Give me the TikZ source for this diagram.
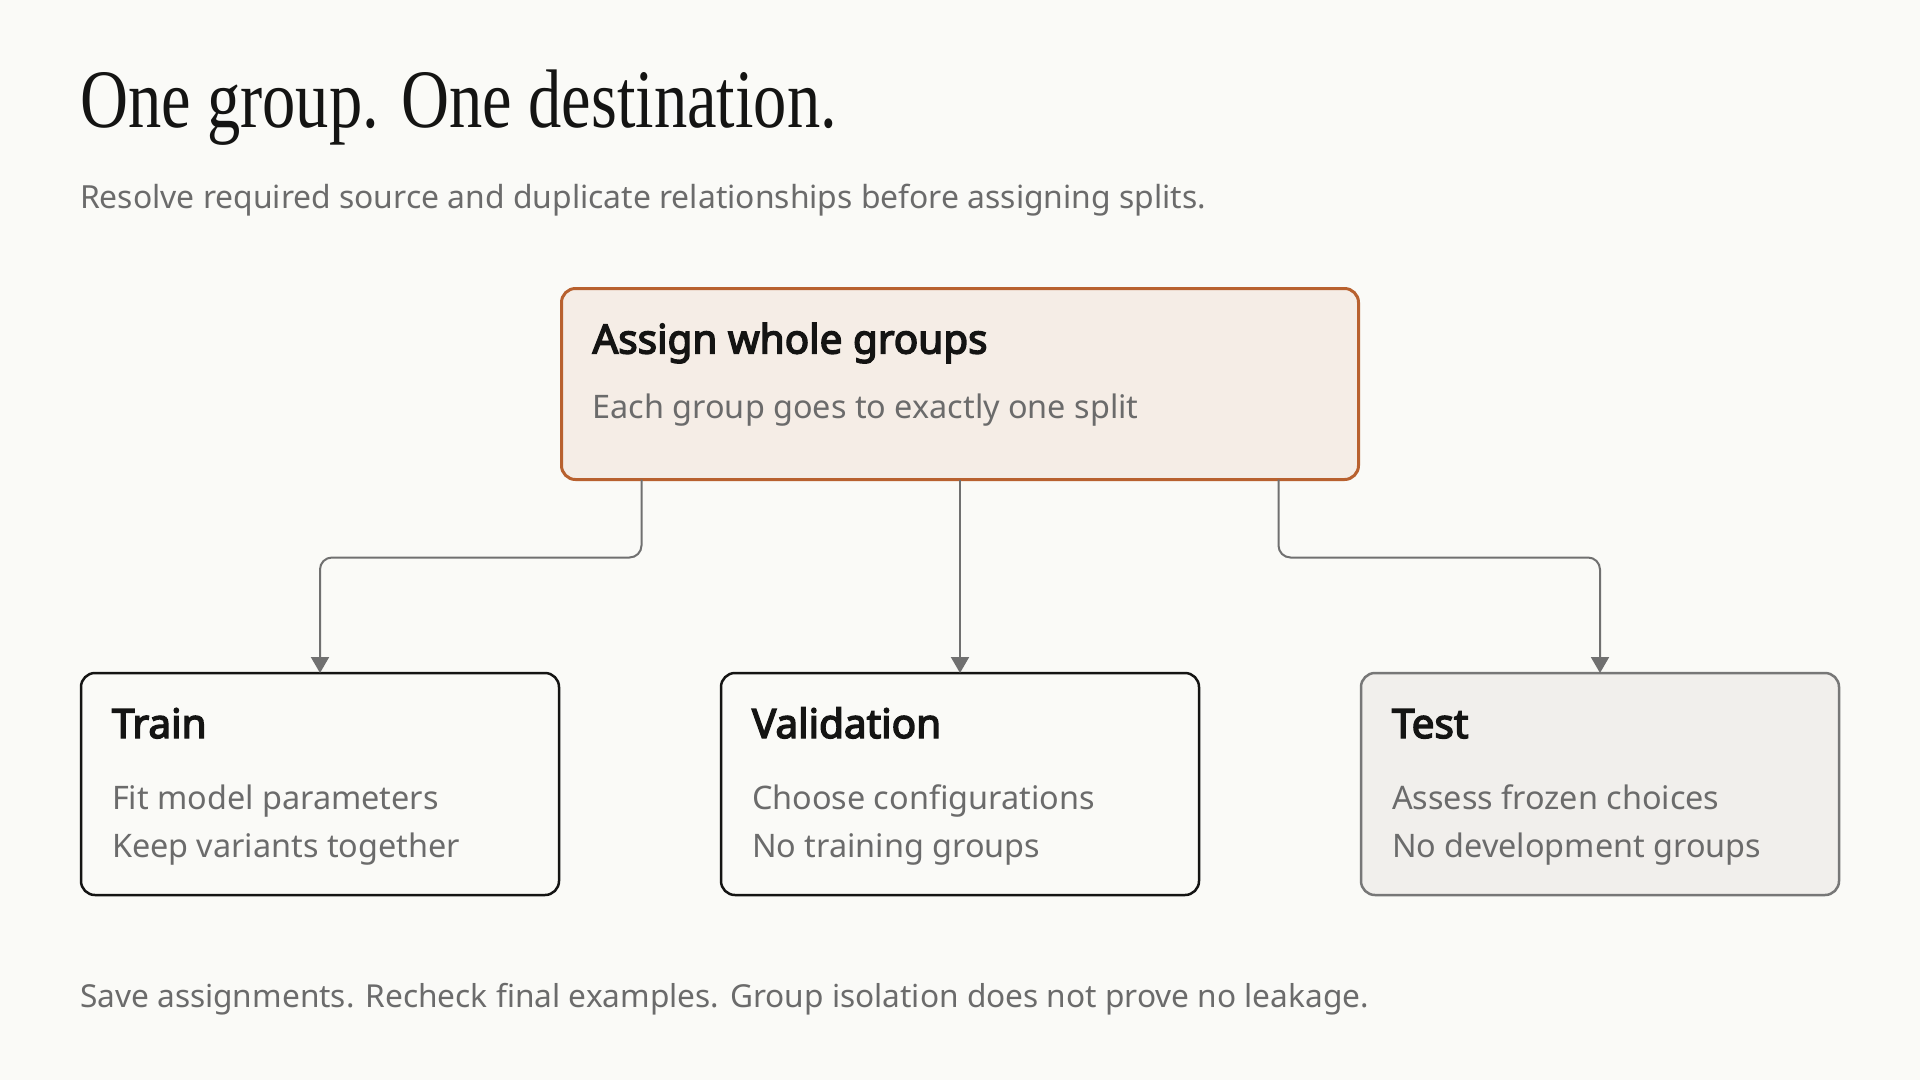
\documentclass[tikz,border=0pt]{standalone}
\usepackage{fontspec}
\setmainfont{Noto Sans}
\newfontfamily\bodyfont{Noto Sans}
\newfontfamily\headfont[FakeBold=3.6]{Noto Sans}
\newfontfamily\titlefont[FakeStretch=0.8]{Liberation Serif}
\usetikzlibrary{arrows.meta}

\definecolor{bg}{HTML}{FAFAF7}
\definecolor{ink}{HTML}{141413}
\definecolor{muted}{HTML}{6B6B6B}
\definecolor{clay}{HTML}{B8612F}
\definecolor{clayfill}{HTML}{F5EDE6}
\definecolor{testfill}{HTML}{F1EFEC}
\definecolor{testline}{HTML}{777777}
\definecolor{connclr}{HTML}{707070}

\newlength\fitlen
\newcommand\fitsize[4]{%
  \settowidth\fitlen{#2\fontsize{10pt}{12pt}\selectfont #4}%
  \pgfmathsetmacro#1{10*#3/\fitlen}}
\fitsize\titlesz{\titlefont}{757}{One group. One destination.}
\fitsize\subsz{\bodyfont}{1126}{Resolve required source and duplicate relationships before assigning splits.}
\fitsize\headsz{\headfont}{395}{Assign whole groups}
\fitsize\bodysz{\bodyfont}{546}{Each group goes to exactly one split}
\fitsize\footsz{\bodyfont}{1289}{Save assignments. Recheck final examples. Group isolation does not prove no leakage.}

\begin{document}
\begin{tikzpicture}[x=1pt,y=-1pt,
  txt/.style={inner sep=0pt, outer sep=0pt, anchor=base west},
  titletxt/.style={txt, text=ink, font=\titlefont\fontsize{\titlesz pt}{\titlesz pt}\selectfont},
  subtxt/.style={txt, text=muted, font=\bodyfont\fontsize{\subsz pt}{\subsz pt}\selectfont},
  foottxt/.style={txt, text=muted, font=\bodyfont\fontsize{\footsz pt}{\footsz pt}\selectfont},
  headtxt/.style={txt, text=ink, font=\headfont\fontsize{\headsz pt}{\headsz pt}\selectfont},
  bodytxt/.style={txt, text=muted, font=\bodyfont\fontsize{\bodysz pt}{\bodysz pt}\selectfont},
  boxbase/.style={rectangle, rounded corners=14pt, inner sep=0pt, outer sep=0pt},
  topbox/.style={boxbase, draw=clay, fill=clayfill, line width=3pt, minimum width=797pt, minimum height=191pt},
  splitbox/.style={boxbase, draw=ink, fill=bg, line width=2.5pt, minimum width=478pt, minimum height=222pt},
  testbox/.style={boxbase, draw=testline, fill=testfill, line width=2.5pt, minimum width=478pt, minimum height=222pt},
  connector/.style={draw=connclr, line width=2pt, rounded corners=12pt, -{Triangle[width=18pt,length=16pt]}}
]
\fill[bg] (0,0) rectangle (1920,1080);
\useasboundingbox (0,0) rectangle (1920,1080);

\node[titletxt] (title) at (80,127) {One group. One destination.};
\node[subtxt] (subtitle) at (80,208) {Resolve required source and duplicate relationships before assigning splits.};

\node[topbox] (assign) at (960,384) {};
\node[headtxt] (assignhead) at ([shift={(31,65)}]assign.north west) {Assign whole groups};
\node[bodytxt] (assignbody) at ([shift={(31,130)}]assign.north west) {Each group goes to exactly one split};

\node[splitbox] (train) at (320,784) {};
\node[splitbox] (valid) at (960,784) {};
\node[testbox] (test) at (1600,784) {};

\node[headtxt] (trainhead) at ([shift={(31,65)}]train.north west) {Train};
\node[bodytxt] (trainl1) at ([shift={(31,136)}]train.north west) {Fit model parameters};
\node[bodytxt] (trainl2) at ([shift={(31,184)}]train.north west) {Keep variants together};

\node[headtxt] (validhead) at ([shift={(31,65)}]valid.north west) {Validation};
\node[bodytxt] (validl1) at ([shift={(31,136)}]valid.north west) {Choose configurations};
\node[bodytxt] (validl2) at ([shift={(31,184)}]valid.north west) {No training groups};

\node[headtxt] (testhead) at ([shift={(31,65)}]test.north west) {Test};
\node[bodytxt] (testl1) at ([shift={(31,136)}]test.north west) {Assess frozen choices};
\node[bodytxt] (testl2) at ([shift={(31,184)}]test.north west) {No development groups};

\draw[connector] ([xshift=80pt]assign.south west) -- ++(0,78) -| (train.north);
\draw[connector] (assign.south) -- (valid.north);
\draw[connector] ([xshift=-80pt]assign.south east) -- ++(0,78) -| (test.north);

\node[foottxt] (footer) at (80,1007) {Save assignments. Recheck final examples. Group isolation does not prove no leakage.};
\end{tikzpicture}
\end{document}
